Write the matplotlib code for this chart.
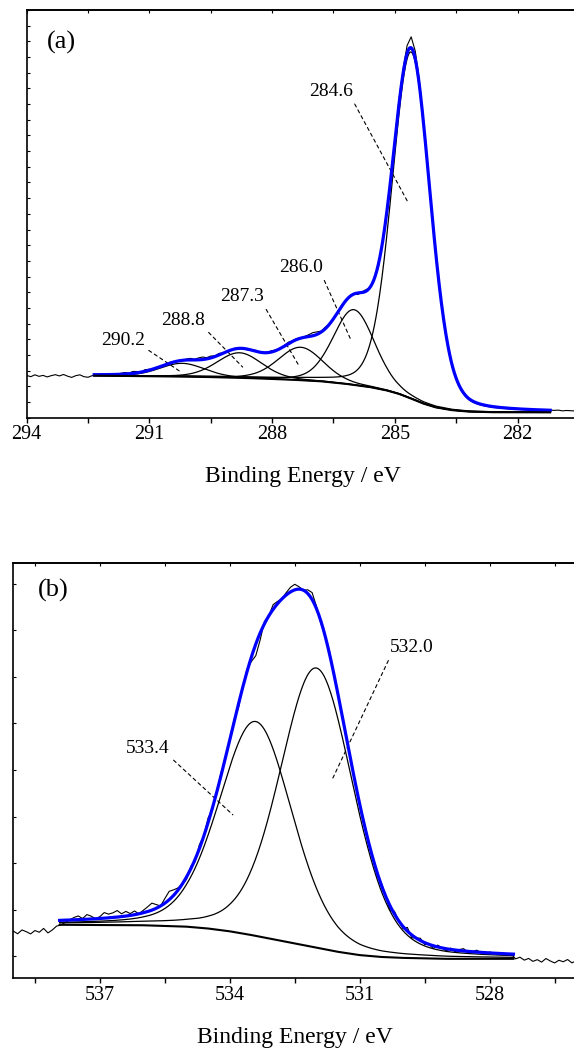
import numpy as np
import matplotlib
matplotlib.use('Agg')
from matplotlib import pyplot as plt
from matplotlib.ticker import MultipleLocator, NullFormatter

plt.rcParams['font.family'] = ['Liberation Serif', 'DejaVu Serif']

# ---- (a) C 1s ----
c1s_centers = [284.6, 286.0, 287.3, 288.8, 290.2]
c1s_heights = [22.1, 4.8, 2.1, 1.6, 0.85]
c1s_fwhm = [1.1, 1.2, 1.3, 1.3, 1.3]
c1s_eta = 0.2
c1s_bg_e = [292.35, 291.5, 290.5, 289.5, 288.5, 287.5, 286.8, 286.2, 285.6, 285.2,
            284.9, 284.6, 284.3, 284.0, 283.6, 283.2, 282.6, 281.2]
c1s_bg_y = [2.68, 2.66, 2.63, 2.59, 2.52, 2.42, 2.32, 2.16, 1.95, 1.74,
            1.52, 1.22, 0.90, 0.66, 0.48, 0.39, 0.35, 0.34]
c1s_fit_lo, c1s_fit_hi = 281.2, 292.35
c1s_raw_start, c1s_raw_end = 294.0, 280.6
c1s_raw_resid = [
    -0.02, -0.10, 0.02, -0.08, -0.02, -0.12, -0.04, 0.02, -0.06, 0.03, -0.08, -0.16, -0.05, 0.0, -0.12, -0.16, -0.06,
    -0.04, 0.0, -0.03, 0.02, 0.05, 0.0, 0.06, 0.1, 0.04, 0.12, 0.08, 0.02, 0.1, 0.05, 0.0, 0.03, -0.04, 0.0, 0.05, 0.02, -0.03,
    0.0, 0.06, 0.1, 0.04, 0.12, 0.16, 0.08, 0.12, 0.05, 0.1, 0.02, -0.04, 0.0, 0.04, -0.02,
    0.0, -0.05, 0.02, 0.06, 0.0, -0.03, 0.04, 0.08, 0.02, -0.02, 0.05, 0.1, 0.04, 0.06, 0.0,
    0.05, 0.12, 0.2, 0.16, 0.06, 0.1, 0.02, -0.05, 0.0, 0.08, 0.04, -0.04, 0.0,
    -0.1, 0.05, 0.1, -0.05, 0.0, -0.2, 0.1, 0.2, -0.1, 0.15, 0.3, 0.25, 0.5, 0.7,
    0.5, 0.3, -0.1, 0.1, -0.2, 0.05, -0.1, 0.08, 0.0, -0.05,
    0.03, -0.02, 0.02, 0.0, -0.03, 0.01, 0.02, -0.02, 0.0, 0.01, -0.01, 0.02, -0.02, 0.0, 0.01, -0.01, 0.02, 0.0,
    -0.02, 0.01, 0.0, -0.01, 0.01, 0.0,
    0.0, 0.02, -0.02, 0.01, 0.0, -0.01]
c1s_labels = ['284.6', '286.0', '287.3', '288.8', '290.2']
c1s_label_text = [(286.56, 20.8), (287.29, 9.55), (288.73, 7.7), (290.18, 6.2), (291.65, 4.95)]
c1s_label_tip = [(284.67, 13.7), (286.07, 4.94), (287.35, 3.34), (288.72, 3.23), (290.25, 2.95)]

# ---- (b) O 1s ----
o1s_centers = [533.4, 532.0]
o1s_heights = [4.6, 6.0]
o1s_fwhm = [2.0, 2.0]
o1s_eta = 0.25
o1s_bg_e = [537.93, 536.0, 535.0, 534.5, 534.0, 533.5, 533.0, 532.5, 532.0, 531.5,
            531.0, 530.5, 530.0, 529.0, 527.45]
o1s_bg_y = [0.68, 0.67, 0.64, 0.60, 0.54, 0.46, 0.37, 0.28, 0.19, 0.10,
            0.03, -0.01, -0.03, -0.05, -0.05]
o1s_fit_lo, o1s_fit_hi = 527.45, 537.93
o1s_raw_start, o1s_raw_end = 539.0, 525.5
o1s_raw_resid = [
    -0.2, -0.26, -0.18, -0.22, -0.27, -0.2, -0.24, -0.16, -0.26, -0.2, -0.12, -0.1,
    -0.05, 0.0, 0.05, 0.08, 0.02, 0.1, 0.06, 0.0, 0.04, 0.12, 0.08, 0.1, 0.14, 0.06, 0.1, 0.04, 0.08, 0.0,
    0.05, 0.1, 0.15, 0.08, 0.0, 0.1, 0.18, 0.12, 0.05, 0.0, -0.05,
    0.05, -0.05, 0.08, 0.0, 0.1, -0.05, 0.0, 0.06, -0.04, 0.0, 0.05, -0.08, 0.0, 0.04, -0.1, -0.25, -0.15,
    0.05, 0.0, 0.1, 0.05, 0.0,
    0.05, 0.1, 0.12, 0.05, 0.0, 0.08, 0.15, 0.05, -0.05, 0.0,
    0.05, 0.0, -0.05, 0.03, 0.0, 0.05, -0.03, 0.0, 0.04, -0.05, 0.02, -0.08, 0.05, 0.0, -0.1, 0.06, 0.0,
    -0.05, 0.08, -0.06, 0.0, 0.05, -0.04,
    0.0, -0.06, 0.04, 0.0, -0.05, 0.03, -0.04, 0.02, 0.05, -0.03, 0.0, 0.04, 0.0, -0.03, 0.02, 0.0, -0.02,
    0.01, -0.02, 0.0,
    -0.1, -0.06, -0.12, -0.08, -0.14, -0.1, -0.15, -0.07, -0.12, -0.16, -0.1, -0.13, -0.08, -0.15, -0.1,
    -0.17, -0.11, -0.14, -0.09, -0.15]
o1s_labels = ['533.4', '532.0']
o1s_label_text = [(535.89, 4.47), (529.79, 6.62)]
o1s_label_tip = [(533.93, 3.04), (531.62, 3.83)]
o1s_label_rel = [(1.0, 0.0), (0.0, 0.0)]


def peak(e, c, h, w, eta):
    d = (e - c) / w
    return h * ((1 - eta) * np.exp(-4 * np.log(2) * d**2) + eta / (1 + 4 * d**2))


def model(e, bg_e, bg_y, centers, heights, fwhm, eta):
    bg = np.interp(e, bg_e[::-1], bg_y[::-1])
    comps = [peak(e, c, h, w, eta) for c, h, w in zip(centers, heights, fwhm)]
    return bg, comps


def draw_panel(ax, bg_e, bg_y, centers, heights, fwhm, eta, lo, hi,
               raw_start, raw_end, resid):
    e = np.linspace(hi, lo, 600)
    bg, comps = model(e, bg_e, bg_y, centers, heights, fwhm, eta)
    env = bg + np.sum(comps, axis=0)

    raw_e = np.linspace(raw_start, raw_end, len(resid))
    rbg, rcomps = model(raw_e, bg_e, bg_y, centers, heights, fwhm, eta)
    raw = rbg + np.sum(rcomps, axis=0) + np.array(resid)

    ax.plot(raw_e, raw, color='k', lw=0.8, zorder=2)
    for comp in comps:
        ax.plot(e, bg + comp, color='k', lw=0.9, zorder=3)
    ax.plot(e, env, color='#0000ff', lw=2.3, zorder=4)
    ax.plot(bg_e, bg_y, color='k', lw=1.5, zorder=5)


def style_axes(ax, xlim, ylim):
    ax.set_xlim(*xlim)
    ax.set_ylim(*ylim)
    ax.xaxis.set_major_locator(MultipleLocator(3))
    ax.xaxis.set_minor_locator(MultipleLocator(1.5))
    ax.yaxis.set_major_locator(MultipleLocator(1))
    ax.yaxis.set_major_formatter(NullFormatter())
    ax.tick_params(axis='x', which='both', direction='out', length=3.4, width=1.0,
                   labelsize=14.5, pad=2, top=False)
    ax.tick_params(axis='y', which='both', direction='in', length=2.2, width=0.8,
                   left=True, right=False)
    for sp in ax.spines.values():
        sp.set_linewidth(1.2)
    top = ax.secondary_xaxis('top')
    top.xaxis.set_major_locator(MultipleLocator(1.5))
    top.tick_params(direction='in', length=2.2, width=0.8, labeltop=False)
    top.spines['top'].set_linewidth(1.2)


fig = plt.figure(figsize=(5.74, 10.54), dpi=100)

# (a)
ax1 = fig.add_axes([0.04652, 0.60370, 0.99756, 0.38681])
draw_panel(ax1, c1s_bg_e, c1s_bg_y, c1s_centers, c1s_heights, c1s_fwhm, c1s_eta,
           c1s_fit_lo, c1s_fit_hi, c1s_raw_start, c1s_raw_end, c1s_raw_resid)
style_axes(ax1, (294, 280), (0, 26))
for lab, txt, tip in zip(c1s_labels, c1s_label_text, c1s_label_tip):
    ax1.annotate(lab, xy=tip, xytext=txt, ha='center', va='center', fontsize=14,
                 arrowprops=dict(arrowstyle='-', linestyle=(0, (3, 3)), lw=0.8,
                                 color='k', shrinkA=1, shrinkB=0, relpos=(0.97, 0.1)))
ax1.text(0.06, 0.9215, '(a)', transform=ax1.transAxes, ha='center', va='center', fontsize=19)
ax1.set_xlabel('Binding Energy / eV', fontsize=17)
ax1.xaxis.set_label_coords(0.4817, -0.143)
ax1.xaxis.label.set_va('center')

# (b)
ax2 = fig.add_axes([0.02317, 0.07182, 1.01847, 0.39431])
draw_panel(ax2, o1s_bg_e, o1s_bg_y, o1s_centers, o1s_heights, o1s_fwhm, o1s_eta,
           o1s_fit_lo, o1s_fit_hi, o1s_raw_start, o1s_raw_end, o1s_raw_resid)
style_axes(ax2, (539, 525.5), (-0.468, 8.45))
for lab, txt, tip, rel in zip(o1s_labels, o1s_label_text, o1s_label_tip, o1s_label_rel):
    ax2.annotate(lab, xy=tip, xytext=txt, ha='center', va='center', fontsize=14,
                 arrowprops=dict(arrowstyle='-', linestyle=(0, (3, 3)), lw=0.8,
                                 color='k', shrinkA=1, shrinkB=0, relpos=rel))
ax2.text(0.0684, 0.934, '(b)', transform=ax2.transAxes, ha='center', va='center', fontsize=19)
ax2.set_xlabel('Binding Energy / eV', fontsize=17)
ax2.xaxis.set_label_coords(0.482, -0.1436)
ax2.xaxis.label.set_va('center')

fig.savefig('out.png', dpi=100)
